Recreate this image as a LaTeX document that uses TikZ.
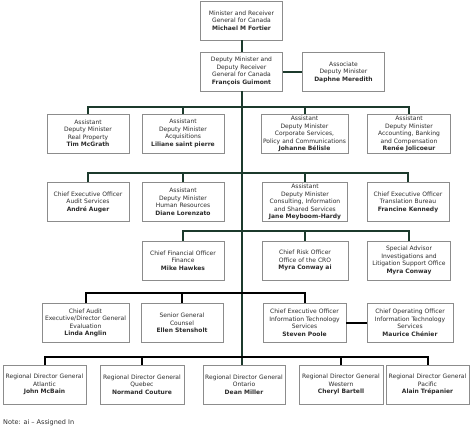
\documentclass[tikz,border=0pt]{standalone}
\usepackage{fontspec}
\setmainfont{DejaVu Sans}
\usetikzlibrary{positioning,calc}
\definecolor{linegreen}{RGB}{28,58,44}
\definecolor{boxgray}{RGB}{140,140,140}
\definecolor{txtgray}{RGB}{45,45,45}

\begin{document}
\begin{tikzpicture}[x=1pt,y=-1pt,
		post/.style={draw=boxgray,
			line width=0.8pt,
			fill=white,
			align=center,
			text width=#1pt,
			minimum height=39pt,
			inner sep=0pt,
			text=txtgray,
			font=\fontsize{6}{7.5}\selectfont},
		post/.default=82,
		link/.style={draw=linegreen, line width=2pt},
		lowlink/.style={draw=black, line width=2pt}
	]
		\useasboundingbox (0,0) rectangle (474,442);

		% minister and deputies
		\node[post] (minister) at (241.5,20.5) {Minister and Receiver\\General for Canada\\\textbf{Michael M Fortier}};
		\node[post] (deputy) at (241.5,71.5) {Deputy Minister and\\Deputy Receiver\\General for Canada\\\textbf{François Guimont}};
		\node[post] (assoc) at (343.5,72) {Associate\\Deputy Minister\\\textbf{Daphne Meredith}};

		% first row
		\node[post] (realprop) at (88,133.5) {Assistant\\Deputy Minister\\Real Property\\\textbf{Tim McGrath}};
		\node[post] (acq) at (183,133.5) {Assistant\\Deputy Minister\\Acquisitions\\\textbf{Liliane saint pierre}};
		\node[post=87] (corp) at (304.5,134) {Assistant\\Deputy Minister\\Corporate Services,\\Policy and Communications\\\textbf{Johanne Bélisle}};
		\node[post=83] (acct) at (409,134) {Assistant\\Deputy Minister\\Accounting, Banking\\and Compensation\\\textbf{Renée Jolicoeur}};

		% second row
		\node[post] (audit) at (88,202) {Chief Executive Officer\\Audit Services\\\textbf{André Auger}};
		\node[post] (hr) at (183,202) {Assistant\\Deputy Minister\\Human Resources\\\textbf{Diane Lorenzato}};
		\node[post=85] (consult) at (305,202) {Assistant\\Deputy Minister\\Consulting, Information\\and Shared Services\\\textbf{Jane Meyboom-Hardy}};
		\node[post] (transl) at (408,202) {Chief Executive Officer\\Translation Bureau\\\textbf{Francine Kennedy}};

		% third row
		\node[post] (cfo) at (183,260.5) {Chief Financial Officer\\Finance\\\textbf{Mike Hawkes}};
		\node[post=86] (risk) at (305,260.5) {Chief Risk Officer\\Office of the CRO\\\textbf{Myra Conway ai}};
		\node[post=83] (special) at (409,260.5) {Special Advisor\\Investigations and\\Litigation Support Office\\\textbf{Myra Conway}};

		% fourth row
		\node[post=87] (cae) at (85.5,323) {Chief Audit\\Executive/Director General\\Evaluation\\\textbf{Linda Anglin}};
		\node[post] (counsel) at (182,323) {Senior General\\Counsel\\\textbf{Ellen Stensholt}};
		\node[post=83] (itceo) at (304.5,323) {Chief Executive Officer\\Information Technology\\Services\\\textbf{Steven Poole}};
		\node[post=86] (itcoo) at (410,323) {Chief Operating Officer\\Information Technology\\Services\\\textbf{Maurice Chénier}};

		% regions
		\node[post=83] (atlantic) at (44.5,384.5) {Regional Director General\\Atlantic\\\textbf{John McBain}};
		\node[post=84] (quebec) at (142,384.5) {Regional Director General\\Quebec\\\textbf{Normand Couture}};
		\node[post] (ontario) at (244,384.5) {Regional Director General\\Ontario\\\textbf{Dean Miller}};
		\node[post=84] (western) at (341,384.5) {Regional Director General\\Western\\\textbf{Cheryl Bartell}};
		\node[post=83] (pacific) at (427.5,384.5) {Regional Director General\\Pacific\\\textbf{Alain Trépanier}};

		\node[anchor=west, inner sep=0pt, text=txtgray, font=\fontsize{6.5}{8}\selectfont] (note) at (3,423) {Note: ai – Assigned In};

		\coordinate (bus1) at (242,107);
		\coordinate (bus2) at (242,173);
		\coordinate (bus3) at (242,231);
		\coordinate (bus4) at (242,293);
		\coordinate (bus5) at (242,357);

		\draw[link] (minister) -- (deputy)
		(deputy.east) -- (assoc.west |- deputy.east)
		(deputy.south) -- (deputy.south |- ontario.north)
		(realprop.north) |- (bus1) -| (acct.north)
		(acq.north) -- (acq.north |- bus1)
		(corp.north) -- (corp.north |- bus1)
		(audit.north) |- (bus2) -| (transl.north)
		(hr.north) -- (hr.north |- bus2)
		(consult.north) -- (consult.north |- bus2)
		(cfo.north) |- (bus3) -| (special.north)
		(risk.north) -- (risk.north |- bus3);

		\draw[lowlink] (cae.north) |- (bus4) -| (itceo.north)
		(counsel.north) -- (counsel.north |- bus4)
		(itceo) -- (itcoo)
		(atlantic.north) |- (bus5) -| (pacific.north)
		(quebec.north) -- (quebec.north |- bus5)
		(western.north) -- (western.north |- bus5);

	\end{tikzpicture}
\end{document}
